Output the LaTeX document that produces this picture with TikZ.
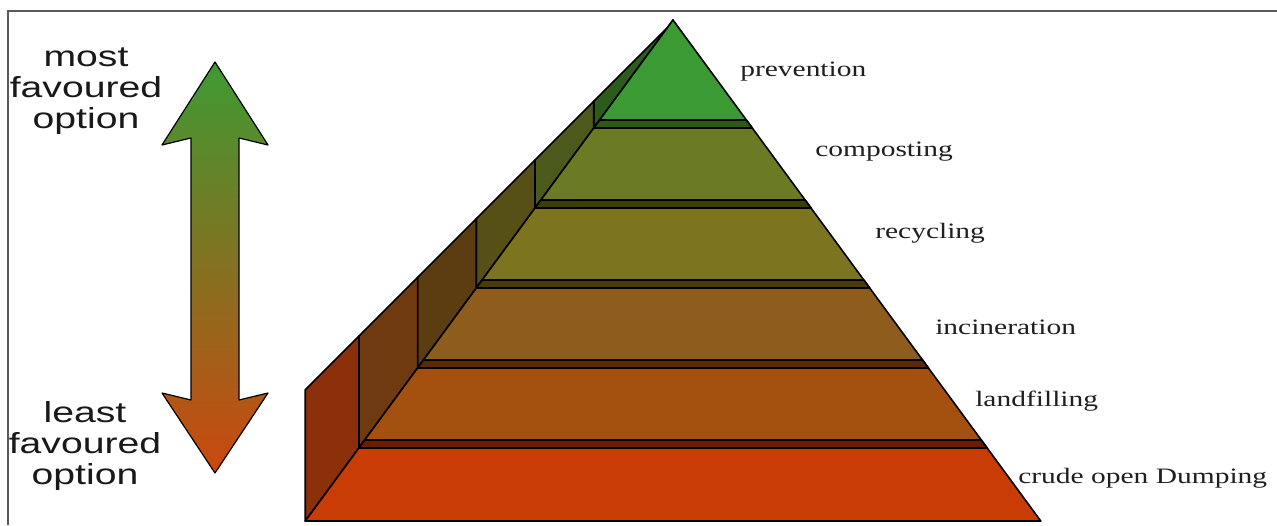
\documentclass[tikz,border=0pt]{standalone}
\usepackage{fontspec}
\newfontfamily\sansfont{Liberation Sans}
\newfontfamily\seriffont{Liberation Serif}
\definecolor{PrevFront}{HTML}{3C9A34}
\definecolor{PrevWall}{HTML}{2B5C1C}
\definecolor{PrevRung}{HTML}{2E5814}
\definecolor{CompFront}{HTML}{6B7B24}
\definecolor{CompWall}{HTML}{4B5A1A}
\definecolor{CompRung}{HTML}{3C3E0A}
\definecolor{RecyFront}{HTML}{7C741F}
\definecolor{RecyWall}{HTML}{565016}
\definecolor{RecyRung}{HTML}{4A3C0A}
\definecolor{InciFront}{HTML}{8E5C1B}
\definecolor{InciWall}{HTML}{5C3D12}
\definecolor{InciRung}{HTML}{5A2A06}
\definecolor{LandFront}{HTML}{A4500F}
\definecolor{LandWall}{HTML}{6F3A10}
\definecolor{LandRung}{HTML}{6A1C05}
\definecolor{CrudeFront}{HTML}{C93C05}
\definecolor{CrudeWall}{HTML}{8C2F0B}
\definecolor{ArrowTop}{HTML}{3E9A33}
\definecolor{ArrowMid}{HTML}{8A6A1E}
\definecolor{ArrowBot}{HTML}{CB480E}
\usetikzlibrary{positioning}

\begin{document}
\begin{tikzpicture}[
  x=1pt, y=-1pt,
  slab/.style={draw=black, line width=1.6pt, line join=round},
  level/.style={font=\seriffont\fontsize{22}{24}\selectfont, text=black!88,
    anchor=west, xscale=1.34, inner sep=0pt},
  rank/.style={font=\sansfont\fontsize{29}{31}\selectfont, text=black!90,
    align=center, xscale=1.35, inner sep=0pt}
]
  \useasboundingbox (0,0) rectangle (1277,525);
  \fill[white] (0,0) rectangle (1277,525);
  \draw[black!65, line width=1.6pt] (8,525) -- (8,11) -- (1277,11);

  \foreach \yt/\yb/\sh/\fc/\wc/\sc in {20/128/8/PrevFront/PrevWall/PrevRung,
      128/208/8/CompFront/CompWall/CompRung, 208/288/8/RecyFront/RecyWall/RecyRung,
      288/368/8/InciFront/InciWall/InciRung, 368/448/8/LandFront/LandWall/LandRung,
      448/521/0/CrudeFront/CrudeWall/CrudeWall}{
    \pgfmathsetmacro\xlt{673-0.734*(\yt-20)}
    \pgfmathsetmacro\xrt{673+0.734*(\yt-20)}
    \pgfmathsetmacro\xlb{673-0.734*(\yb-20)}
    \pgfmathsetmacro\xrb{673+0.734*(\yb-20)}
    \pgfmathsetmacro\ys{\yb-\sh}
    \pgfmathsetmacro\xls{673-0.734*(\ys-20)}
    \pgfmathsetmacro\xrs{673+0.734*(\ys-20)}
    \filldraw[slab, fill=\wc] (\xlb,\yb) -- (\xlt,\yt) -- (\xlt,{695-\xlt})
      -- (\xlb,{695-\xlb}) -- cycle;
    \filldraw[slab, fill=\fc] (\xlb,\yb) -- (\xlt,\yt) -- (\xrt,\yt) -- (\xrb,\yb) -- cycle;
    \filldraw[slab, fill=\sc] (\xlb,\yb) -- (\xls,\ys) -- (\xrs,\ys) -- (\xrb,\yb) -- cycle;
  }

  \shadedraw[top color=ArrowTop, middle color=ArrowMid, bottom color=ArrowBot,
    draw=black, line width=1.2pt, line join=round]
    (215,62) -- (268,145) -- (239,138) -- (239,400) -- (268,393) -- (215,473)
    -- (162,393) -- (191,400) -- (191,138) -- (162,145) -- cycle;

  \node[rank] (most) at (86,91) {most\\favoured\\option};
  \node[rank] (least) at (85,446) {least\\favoured\\option};

  \node[level] (prevention) at (740,72) {prevention};
  \node[level] (composting) at (815,152) {composting};
  \node[level] (recycling) at (875,233) {recycling};
  \node[level] (incineration) at (935,327) {incineration};
  \node[level] (landfilling) at (975,401) {landfilling};
  \node[level] (dumping) at (1018,478) {crude open Dumping};
\end{tikzpicture}
\end{document}
